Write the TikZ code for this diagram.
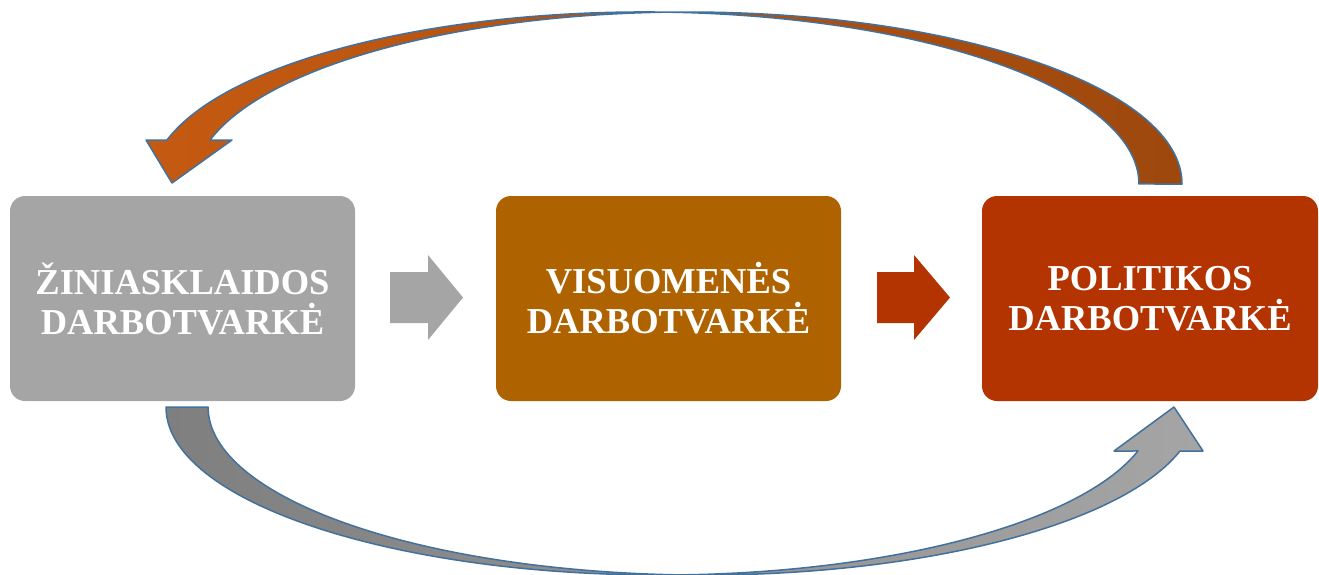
\documentclass[tikz,border=0pt]{standalone}
\usepackage{fontspec}
\setmainfont{Liberation Serif}
\usetikzlibrary{calc}

\definecolor{boxgray}{HTML}{A5A5A5}
\definecolor{boxbrown}{HTML}{AE6300}
\definecolor{boxred}{HTML}{B33400}
\definecolor{rimblue}{HTML}{41719C}
\definecolor{curveorange}{HTML}{C55A11}
\definecolor{curvebrown}{HTML}{9E480E}
\definecolor{curvedark}{HTML}{7F7F7F}

\tikzstyle{agenda} = [rectangle, rounded corners=15pt, minimum width=345pt, minimum height=205pt, inner sep=0pt, text=white, align=center, font=\fontsize{36.5}{40}\selectfont\bfseries]
\tikzstyle{bigcurve} = [draw=rimblue, line width=1.5pt, line join=round]

\begin{document}
\begin{tikzpicture}[x=1pt, y=-1pt]

	\useasboundingbox (0,0) rectangle (1319,574);

	% Agendas
	\node[agenda, fill=boxgray] (zin) at (182.5,298.5) {ŽINIASKLAIDOS\\DARBOTVARKĖ};
	\node[agenda, fill=boxbrown] (vis) at (668.5,298.5) {VISUOMENĖS\\DARBOTVARKĖ};
	\node[agenda, fill=boxred, minimum width=336pt] (pol) at (1150,298.5) {POLITIKOS\\DARBOTVARKĖ};

	% Straight arrows
	\coordinate (a1) at ($(zin.east)!0.5!(vis.west) + (1,-1)$);
	\coordinate (a2) at ($(vis.east)!0.5!(pol.west) + (2,-1)$);
	\fill[boxgray] (a1) ++(-36.5,-25.5) -- ++(38,0) -- ++(0,-17) -- ++(35,42.5) -- ++(-35,42.5) -- ++(0,-17) -- ++(-38,0) -- cycle;
	\fill[boxred] (a2) ++(-36.5,-25.5) -- ++(37,0) -- ++(0,-17) -- ++(36,42.5) -- ++(-36,42.5) -- ++(0,-17) -- ++(-37,0) -- cycle;

	% Top curve: politics back to media
	\coordinate (toptail) at (1182,184);
	\path[bigcurve, left color=curveorange, right color=curvebrown] (toptail)
		arc[start angle=0, end angle=165.18, x radius=494.2pt, y radius=172pt]
		-- (232,140) -- (172,183) -- (146,140) -- (167,140)
		arc[start angle=165.18, end angle=0, x radius=494.2pt, y radius=172pt] -- cycle;

	% Bottom curve: media to politics
	\coordinate (bottail) at (166,407);
	\path[bigcurve, left color=curvedark, right color=boxgray] (bottail)
		arc[start angle=180, end angle=344.82, x radius=494.6pt, y radius=168pt]
		-- (1114,451) -- (1174,407) -- (1203,451) -- (1180,451)
		arc[start angle=-15.18, end angle=-180, x radius=494.6pt, y radius=168pt] -- cycle;

\end{tikzpicture}
\end{document}
